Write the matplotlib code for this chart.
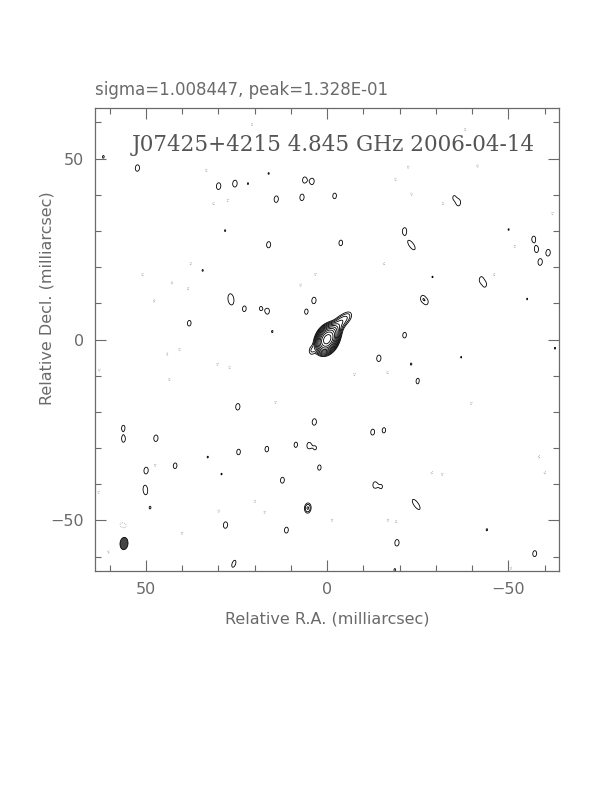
import numpy as np
import matplotlib
matplotlib.use('Agg')
import matplotlib.pyplot as plt
from matplotlib.patches import Ellipse

# map parameters (mJy/beam)
sigma = 1.008447
peak = 132.8
title = 'J07425+4215 4.845 GHz 2006-04-14'
info = 'sigma=1.008447, peak=1.328E-01'

# restoring beam: major, minor (mas), PA (deg) and where it is drawn
beam_maj = 3.4
beam_min = 2.2
beam_pa = -5.0
beam_xy = (56.0, -56.4)

# source components: x, y (mas), peak, fwhm major, fwhm minor, PA
comp_x = [0.0, -1.8, -3.6, -5.6]
comp_y = [0.0, 2.2, 4.6, 6.2]
comp_peak = [122.0, 14.0, 7.0, 4.6]
comp_maj = [4.3, 3.6, 3.6, 3.6]
comp_min = [3.0, 2.6, 2.4, 2.4]
comp_pa = [-25.0, -25.0, -30.0, -35.0]

# noise islands above +3 sigma: x, y, peak
isl_x = [52.3, 29.9, 25.4, 14.0, 6.9, 6.2, 4.1, 16.1, 22.8, 18.3, 16.4, 3.6, 5.7, 38.0,
         16.1, 21.8, 28.1, 34.3, 15.1, -2.1, -3.8, -21.4, -36.3, -35.0, -57.0, -57.8,
         -61.0, -58.8, -42.5, -43.6, -26.3, -27.5, -21.4, -50.1, -29.1, -55.2, 4.3,
         24.6, 3.5, 56.2, 56.2, 47.2, 24.4, 16.6, 8.6, 5.0, 3.2, 49.9, 41.9, 2.1,
         12.3, 5.3, 28.0, 11.2, 32.9, 29.1, 48.8, -14.3, -23.2, -25.1, -37.0,
         -62.9, -12.6, -15.7, -13.2, -15.0, -19.3, -44.1, -57.3, -18.7, 61.7]
isl_y = [47.4, 42.4, 43.1, 38.8, 39.3, 44.1, 43.7, 26.2, 8.5, 8.6, 7.8, 10.8, 7.7, 4.5,
         45.9, 43.1, 30.1, 19.1, 2.2, 39.7, 26.7, 30.1, 37.8, 39.3, 27.8, 24.9,
         24.0, 21.4, 16.6, 15.1, 11.4, 10.3, 1.2, 30.4, 17.3, 11.2, -3.1,
         -18.6, -22.8, -24.4, -27.6, -27.3, -31.1, -30.3, -29.1, -29.3, -30.0, -36.2, -34.9, -35.4,
         -38.9, -46.6, -51.3, -52.7, -32.5, -37.2, -46.5, -5.2, -6.8, -11.5, -4.9,
         -2.4, -25.6, -25.1, -40.2, -40.7, -56.2, -52.6, -59.2, -63.7, 50.5]
isl_peak = [4.1, 4.2, 4.25, 4.1, 4.1, 3.9, 4.0, 4.0, 3.8, 3.3, 3.8, 4.1, 3.7, 3.8,
            3.12, 3.12, 3.12, 3.12, 3.15, 3.8, 3.8, 3.8, 3.9, 3.12, 3.8, 3.9,
            4.15, 4.1, 3.6, 3.3, 3.6, 3.3, 3.8, 3.1, 3.1, 3.1, 3.9,
            4.1, 4.1, 3.6, 4.0, 4.1, 3.8, 3.8, 3.7, 3.9, 3.2, 4.1, 3.8, 3.7,
            3.9, 6.4, 4.1, 3.9, 3.12, 3.1, 3.15, 4.1, 3.15, 3.9, 3.1,
            3.12, 3.9, 3.7, 3.9, 3.2, 4.1, 3.15, 3.9, 3.2, 3.2]

# elongated islands: x, y, peak, fwhm major, fwhm minor, PA
ext_x = [-23.3, -24.6, 26.5, 50.1, 25.7]
ext_y = [26.1, -45.6, 11.1, -41.6, -62.0]
ext_peak = [4.0, 4.1, 4.15, 4.0, 3.7]
ext_maj = [4.8, 5.0, 4.6, 4.2, 3.8]
ext_min = [2.0, 1.9, 2.4, 2.0, 1.8]
ext_pa = [35.0, 35.0, 8.0, 5.0, -20.0]

# negative islands below -3 sigma: x, y
neg_x = [33.3, 27.4, 31.3, 37.6, 42.8, 38.3, 47.7, 50.9, 3.2, 7.3, 20.7,
         -22.4, -18.9, -23.3, -32.0, -41.5, -51.8, -15.7, -46.1, -62.2, -38.1,
         44.1, 40.7, 30.2, 26.9, 43.5, 62.8, 14.2, 47.4, 63.0, 57.7, 19.9, 17.2,
         29.9, 55.7, 40.0, 60.3, 56.8, -7.6, -16.7, -26.5, -39.8, -28.9, -31.8,
         -58.5, -60.1, -1.4, -19.1, -50.7, -16.8]
neg_y = [46.8, 38.5, 37.6, 21.0, 15.7, 14.1, 10.7, 18.0, 18.1, 15.1, 59.5,
         47.7, 44.3, 40.2, 37.6, 48.0, 25.8, 21.0, 18.0, 34.9, 58.1,
         -4.0, -2.7, -6.8, -7.7, -11.0, -8.4, -17.3, -34.7, -42.2, -28.5, -44.7, -47.7,
         -47.4, -51.5, -53.5, -58.7, -51.2, -9.6, -9.1, -11.8, -17.6, -36.8, -37.2,
         -32.4, -36.8, -49.9, -50.3, -63.2, -49.9]
neg_peak = -3.3


def gauss(X, Y, x0, y0, amp, fmaj, fmin, pa):
    # elliptical gaussian, PA east of north, x = RA offset (east positive)
    t = np.radians(pa)
    u = (X - x0) * np.sin(t) + (Y - y0) * np.cos(t)
    v = (X - x0) * np.cos(t) - (Y - y0) * np.sin(t)
    smaj = fmaj / 2.3548
    smin = fmin / 2.3548
    return amp * np.exp(-0.5 * (u**2 / smaj**2 + v**2 / smin**2))


# grid
g = np.linspace(-64, 64, 641)
X, Y = np.meshgrid(g, g)
img = np.zeros_like(X)

for i in range(len(comp_x)):
    img += gauss(X, Y, comp_x[i], comp_y[i], comp_peak[i], comp_maj[i], comp_min[i], comp_pa[i])
for i in range(len(isl_x)):
    img += gauss(X, Y, isl_x[i], isl_y[i], isl_peak[i], beam_maj * 0.8, beam_min * 0.8, beam_pa)
for i in range(len(ext_x)):
    img += gauss(X, Y, ext_x[i], ext_y[i], ext_peak[i], ext_maj[i], ext_min[i], ext_pa[i])
for i in range(len(neg_x)):
    img += gauss(X, Y, neg_x[i], neg_y[i], neg_peak, beam_maj * 0.6, beam_min * 0.6, beam_pa)

levels = [3 * sigma * np.sqrt(2) ** n for n in range(11)]

fig = plt.figure(figsize=(6.12, 7.92), dpi=100)
ax = fig.add_axes([95 / 612, 1 - 571 / 792, 464 / 612, 463 / 792])

ax.contour(X, Y, img, levels=levels, colors='black', linewidths=0.6)
ax.contour(X, Y, img, levels=[-3 * sigma], colors='#888888', linewidths=0.5, linestyles='dotted')

# beam
beam = Ellipse(beam_xy, width=beam_min, height=beam_maj, angle=-beam_pa,
               facecolor='#444444', edgecolor='black', linewidth=0.6)
ax.add_patch(beam)

ax.set_xlim(64, -64)
ax.set_ylim(-64, 64)
ax.set_aspect('auto')

gray = '#6a6a6a'
ax.set_xticks([50, 0, -50])
ax.set_yticks([50, 0, -50])
ax.set_xticks(np.arange(-60, 61, 10), minor=True)
ax.set_yticks(np.arange(-60, 61, 10), minor=True)
ax.tick_params(which='both', direction='in', top=True, right=True, color=gray, width=0.8)
ax.tick_params(which='major', length=8, labelsize=11.5, labelcolor=gray, pad=8)
ax.tick_params(which='minor', length=4)
for s in ax.spines.values():
    s.set_color(gray)
    s.set_linewidth(0.9)

ax.set_xlabel('Relative R.A. (milliarcsec)', fontsize=11.5, color=gray, labelpad=10)
fig.text(47 / 612, 1 - 298 / 792, 'Relative Decl. (milliarcsec)', fontsize=11.5,
         color=gray, rotation=90, ha='center', va='center')

ax.text(0.513, 0.92, title, transform=ax.transAxes, ha='center', va='center',
        fontsize=15.5, color='#555555', family='DejaVu Serif')
fig.text(95 / 612, 1 - 90 / 792, info, fontsize=12, color=gray, ha='left', va='center')

plt.savefig('out.png', dpi=100)
